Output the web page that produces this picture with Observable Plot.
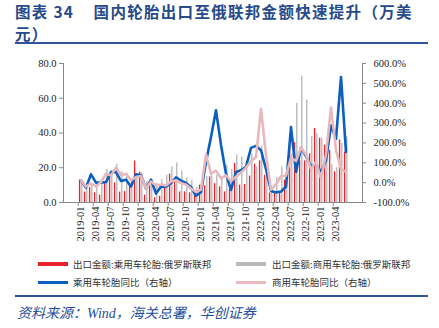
<!DOCTYPE html>
<html><head><meta charset="utf-8">
<script src="https://cdn.jsdelivr.net/npm/d3@7"></script>
<script src="https://cdn.jsdelivr.net/npm/@observablehq/plot@0.6"></script>
<style>
body{margin:0;width:439px;height:328px;overflow:hidden;background:#fff;position:relative;font-family:"Noto Sans CJK SC","Noto Sans",sans-serif;}
.title{position:absolute;left:15px;font-size:15.5px;font-weight:bold;color:#264a8a;line-height:22px;white-space:nowrap;letter-spacing:1.3px;}
.rule{position:absolute;left:15px;width:413px;height:2px;background:#2f5597;}
#chart{position:absolute;left:0;top:45px;}
.leg{position:absolute;font-size:9.5px;color:#333;line-height:12px;white-space:nowrap;}
.sw{position:absolute;width:30px;}
#src{position:absolute;left:17px;top:302px;font-size:14px;font-style:italic;color:#1f4e9a;white-space:nowrap;font-family:"Liberation Serif","Noto Sans CJK SC",serif;}
</style></head>
<body>
<div class="title" style="top:0px">图表 34&nbsp;&nbsp;&nbsp;&nbsp;国内轮胎出口至俄联邦金额快速提升（万美</div>
<div class="title" style="top:22px">元）</div>
<div class="rule" style="top:42px"></div>
<div id="chart"></div>
<div class="sw" style="left:38px;top:262px;height:4px;background:#e8212b"></div>
<div class="leg" style="left:73px;top:258px">出口金额:乘用车轮胎:俄罗斯联邦</div>
<div class="sw" style="left:236px;top:262px;height:4px;background:#b8b8b8"></div>
<div class="leg" style="left:272px;top:258px">出口金额:商用车轮胎:俄罗斯联邦</div>
<div class="sw" style="left:38px;top:281px;height:2.5px;background:#0a5fbf"></div>
<div class="leg" style="left:73px;top:276px">乘用车轮胎同比（右轴）</div>
<div class="sw" style="left:236px;top:281px;height:2.5px;background:#e9b8bc"></div>
<div class="leg" style="left:272px;top:276px">商用车轮胎同比（右轴）</div>
<div class="rule" style="top:295px"></div>
<div id="src">资料来源：Wind，海关总署，华创证券</div>
<script>
// categories: months 2019-01 .. 2023-06
const months = [];
for (let y = 2019; y <= 2023; y++) for (let m = 1; m <= 12; m++) {
  if (y === 2023 && m > 6) break;
  months.push(y + "-" + String(m).padStart(2, "0"));
}
const tickLabels = ["2019-01","2019-04","2019-07","2019-10","2020-01","2020-04","2020-07","2020-10","2021-01","2021-04","2021-07","2021-10","2022-01","2022-04","2022-07","2022-10","2023-01","2023-04"];
const leftTicks = [0, 20, 40, 60, 80];
const rightTicks = [-100, 0, 100, 200, 300, 400, 500, 600];

// 出口金额:乘用车轮胎:俄罗斯联邦 (万美元)
const passengerValue = [13,6,8.6,5.6,4.2,11,15.5,11.3,6,6.3,10,23.8,
  17.5,4.2,10,2.7,3.6,9,16.3,12,6.1,6.1,5.6,6.1,
  10,9.6,14.8,10.9,9,6.1,7.7,22.5,10,10.4,15.2,22,
  24,15.7,5.5,5.2,6,13,34,34.4,24,24,28,42.6,
  37,33,30,17.7,36,29];
// 出口金额:商用车轮胎:俄罗斯联邦 (万美元)
const commercialValue = [11,8,10,11,12.9,19,18.6,22,17.7,16.7,13.8,14.8,
  17,12,12.9,11,13.2,15.7,20.5,22.8,18.2,14.2,12.5,8.6,
  8.6,15,15.5,15.7,15,21.5,19,27.3,26.3,24,28,20.5,
  32.4,18,8,14.4,20.5,17,28,57,72.7,59,38,39.7,
  37,26,22,20,34,37.8];
// 乘用车轮胎同比 (%)
const passengerYoY = [12,-25,42,0,0,3,53,53,8,15,-19,42,
  37,-30,15,-55,-19,-20,-3,27,10,-2,-22,-66,
  -47,105,230,364,190,45,-37,54,62,80,175,185,
  163,68,-42,-50,-45,-20,280,54,176,132,82,92,
  54,112,288,220,532,154];
// 商用车轮胎同比 (%)
const commercialYoY = [12,-19,-5,-19,3,45,37,75,37,45,12,28,
  33,-30,6,-14,-9,-14,6,12,-2,-10,-30,-47,
  -35,143,45,60,22,37,8,30,50,76,108,129,
  372,140,-35,-8,32,35,125,110,176,140,68,105,
  22,140,378,165,68,54];

const toLeft = p => (p + 100) * 80 / 700;
const toPct = v => v * 700 / 80 - 100;

const data = months.map((m, i) => ({
  month: m,
  pv: passengerValue[i], cv: commercialValue[i],
  py: toLeft(passengerYoY[i]), cy: toLeft(commercialYoY[i])
}));

const W = 439, ML = 63, MR = 77;
const bw = (W - ML - MR) / months.length;
const font = "Liberation Serif, Times New Roman, serif";

const chart = Plot.plot({
  width: W, height: 205,
  marginLeft: ML, marginRight: MR, marginTop: 18, marginBottom: 48,
  style: {fontFamily: font, fontSize: "10.5px", color: "#222", background: "transparent"},
  x: {type: "band", domain: months, padding: 0, axis: null, label: null},
  y: {domain: [0, 80], axis: null, label: null},
  marks: [
    Plot.barY(data, {x: "month", y: "pv", fill: "#e8212b", insetLeft: 0.9, insetRight: bw - 2.8}),
    Plot.barY(data, {x: "month", y: "cv", fill: "#b8b8b8", insetLeft: 3.1, insetRight: bw - 5.0}),
    Plot.lineY(data, {x: "month", y: "py", stroke: "#0a5fbf", strokeWidth: 2.6, curve: "linear"}),
    Plot.lineY(data, {x: "month", y: "cy", stroke: "#e9b8bc", strokeWidth: 2.6, curve: "linear"}),
    Plot.frame({anchor: "left", stroke: "#888"}),
    Plot.frame({anchor: "right", stroke: "#888"}),
    Plot.frame({anchor: "bottom", stroke: "#888"}),
    Plot.axisY({anchor: "left", ticks: leftTicks, tickFormat: d => d.toFixed(1), tickSize: 4, tickPadding: 3, stroke: "#888", fill: "#222", label: null}),
    Plot.axisY({anchor: "right", ticks: rightTicks.map(toLeft), tickFormat: d => toPct(d).toFixed(1) + "%", tickSize: 3, tickPadding: 8, stroke: "#888", fill: "#222", label: null}),
    Plot.axisX({ticks: tickLabels, tickSize: 4, tickFormat: () => "", dx: -bw / 2, stroke: "#888", label: null}),
    Plot.axisX({ticks: tickLabels, tickSize: 0, tickPadding: 4, tickRotate: -90, fill: "#222", label: null})
  ]
});
document.getElementById("chart").appendChild(chart);
</script>
</body></html>
